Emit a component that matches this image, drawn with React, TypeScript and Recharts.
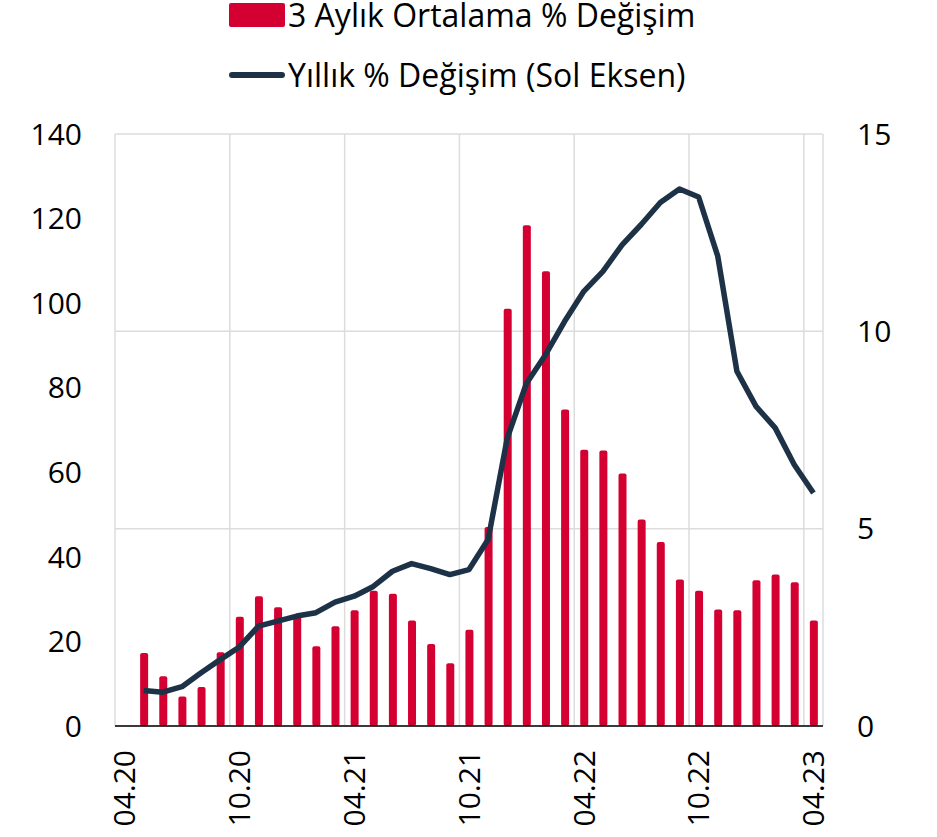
import {
  ComposedChart, Bar, Line, XAxis, YAxis, CartesianGrid,
} from 'recharts'

const MONTHS = [
  '04.20', '05.20', '06.20', '07.20', '08.20', '09.20',
  '10.20', '11.20', '12.20', '01.21', '02.21', '03.21',
  '04.21', '05.21', '06.21', '07.21', '08.21', '09.21',
  '10.21', '11.21', '12.21', '01.22', '02.22', '03.22',
  '04.22', '05.22', '06.22', '07.22', '08.22', '09.22',
  '10.22', '11.22', '12.22', '01.23', '02.23', '03.23',
  '04.23',
]

// 3 aylık ortalama % değişim (sağ eksen)
const AVG_3M = [
  null, 1.85, 1.26, 0.75, 0.99, 1.87,
  2.77, 3.29, 3.01, 2.8, 2.02, 2.53,
  2.93, 3.43, 3.35, 2.67, 2.08, 1.59,
  2.44, 5.04, 10.57, 12.69, 11.52, 8.02,
  7.0, 6.98, 6.4, 5.23, 4.66, 3.71,
  3.43, 2.95, 2.93, 3.69, 3.84, 3.64,
  2.67,
]

// yıllık % değişim (sol eksen)
const ANNUAL = [
  null, 8.4, 8.0, 9.3, 12.6, 15.7,
  18.7, 23.6, 24.8, 26.0, 26.8, 29.3,
  30.7, 33.0, 36.6, 38.4, 37.2, 35.8,
  37.0, 44.1, 68.1, 81.0, 87.8, 95.7,
  102.8, 107.5, 113.8, 118.6, 123.8, 127.0,
  125.1, 111.1, 83.9, 75.6, 70.5, 61.8,
  55.1,
]

const LEFT_TICKS = [0, 20, 40, 60, 80, 100, 120, 140]
const RIGHT_TICKS = [0, 5, 10, 15]
const GRID_TICKS = [0, 6, 12, 18, 24, 30, 36]

const BAR_LABEL = '3 Aylık Ortalama % Değişim'
const LINE_LABEL = 'Yıllık % Değişim (Sol Eksen)'

const RED = '#d50032'
const NAVY = '#1e3247'
const FONT = '"Open Sans", "Noto Sans", sans-serif'

const data = MONTHS.map((m, i) => ({ m, idx: i + 0.5, avg: AVG_3M[i], annual: ANNUAL[i] }))

// eslint-disable-next-line @typescript-eslint/no-explicit-any
function MonthTick({ x, y, payload }: any) {
  return (
    <text
      x={x}
      y={y}
      transform={`rotate(-90, ${x}, ${y})`}
      textAnchor="end"
      dy="0.36em"
      fill="#000"
      fontSize={30}
      fontFamily={FONT}
    >
      {payload.value}
    </text>
  )
}

function ChartLegend() {
  const row = {
    display: 'flex', alignItems: 'center', height: 30,
    position: 'absolute' as const, left: 229, zIndex: 2,
  }
  const txt = {
    display: 'inline-block', height: 30,
    fontFamily: FONT, fontSize: 32, lineHeight: '30px', color: '#000',
    marginLeft: 3, whiteSpace: 'nowrap' as const,
  }
  return (
    <>
      <div style={{ ...row, top: 0 }}>
        <div style={{ width: 56, height: 24, background: RED, borderRadius: 2 }} />
        <span style={txt}>{BAR_LABEL}</span>
      </div>
      <div style={{ ...row, top: 60 }}>
        <div style={{ width: 56, height: 6, background: NAVY, borderRadius: 3 }} />
        <span style={txt}>{LINE_LABEL}</span>
      </div>
    </>
  )
}

export default function App() {
  return (
    <div style={{ position: 'absolute', left: 0, top: 0, width: 937, height: 837, background: '#fff' }}>
      <ComposedChart
        width={937}
        height={837}
        data={data}
        margin={{ top: 134, right: 34, bottom: 11, left: 35 }}
        barCategoryGap={0}
      >
        <CartesianGrid
          xAxisId="grid"
          yAxisId="right"
          stroke="#dcdcdc"
          strokeWidth={1.5}
        />
        <XAxis
          dataKey="m"
          interval={5}
          tick={<MonthTick />}
          tickLine={false}
          tickSize={0}
          tickMargin={24}
          axisLine={{ stroke: '#000', strokeWidth: 1.5 }}
          height={100}
        />
        <XAxis
          xAxisId="grid"
          dataKey="idx"
          type="number"
          domain={[0, 37]}
          ticks={GRID_TICKS}
          hide
        />
        <YAxis
          yAxisId="left"
          orientation="left"
          domain={[0, 140]}
          ticks={LEFT_TICKS}
          tick={{ fill: '#000', fontSize: 30, fontFamily: FONT }}
          tickLine={false}
          axisLine={false}
          tickSize={0}
          tickMargin={33}
          width={80}
        />
        <YAxis
          yAxisId="right"
          orientation="right"
          domain={[0, 15]}
          ticks={RIGHT_TICKS}
          tick={{ fill: '#000', fontSize: 30, fontFamily: FONT }}
          tickLine={false}
          axisLine={false}
          tickSize={0}
          tickMargin={34}
          width={80}
        />
        <Bar
          yAxisId="right"
          dataKey="avg"
          name={BAR_LABEL}
          fill={RED}
          barSize={8}
          radius={2}
          isAnimationActive={false}
        />
        <Line
          yAxisId="left"
          dataKey="annual"
          name={LINE_LABEL}
          stroke={NAVY}
          strokeWidth={5.5}
          strokeLinejoin="round"
          dot={false}
          activeDot={false}
          isAnimationActive={false}
        />
      </ComposedChart>
      <ChartLegend />
    </div>
  )
}
